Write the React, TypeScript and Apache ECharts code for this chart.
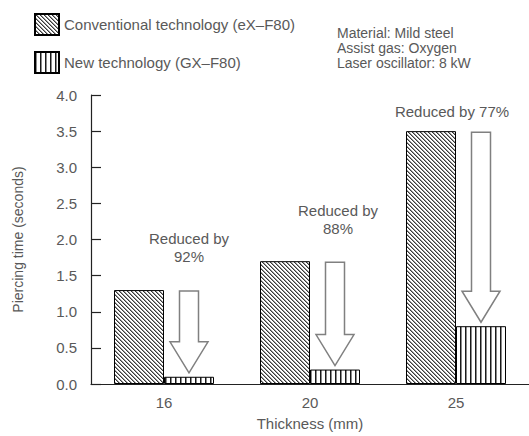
import React, { useEffect, useRef } from "react";
import * as echarts from "echarts";

const categories = ["16", "20", "25"];
const conventionalValues = [1.3, 1.7, 3.5];
const newValues = [0.1, 0.2, 0.8];
const reductionLabels = ["Reduced by\n92%", "Reduced by\n88%", "Reduced by 77%"];
const yTicks = [0, 0.5, 1, 1.5, 2, 2.5, 3, 3.5, 4];
const seriesNames = ["Conventional technology (eX\u2013F80)", "New technology (GX\u2013F80)"];
const conditions = ["Material: Mild steel", "Assist gas: Oxygen", "Laser oscillator: 8 kW"];

const FONT = '"Liberation Sans", Arial, sans-serif';
const GRAY = "#595959";

function makeDiagonal(): HTMLCanvasElement {
  const c = document.createElement("canvas");
  c.width = 4;
  c.height = 4;
  const ctx = c.getContext("2d")!;
  ctx.fillStyle = "#ffffff";
  ctx.fillRect(0, 0, 4, 4);
  for (let y = 0; y < 4; y++) {
    for (let x = 0; x < 4; x++) {
      const d = (((x - y) % 4) + 4) % 4;
      if (d === 0) {
        ctx.fillStyle = "#3a3a3a";
        ctx.fillRect(x, y, 1, 1);
      } else if (d === 1) {
        ctx.fillStyle = "#9a9a9a";
        ctx.fillRect(x, y, 1, 1);
      }
    }
  }
  return c;
}

function makeVertical(): HTMLCanvasElement {
  const c = document.createElement("canvas");
  c.width = 5;
  c.height = 4;
  const ctx = c.getContext("2d")!;
  ctx.fillStyle = "#ffffff";
  ctx.fillRect(0, 0, 5, 4);
  ctx.fillStyle = "#1a1a1a";
  ctx.fillRect(0, 0, 1, 4);
  ctx.fillStyle = "#8a8a8a";
  ctx.fillRect(1, 0, 1, 4);
  return c;
}

// arrow label offsets (style), relative to arrow centre / top
const labelDx = [0, 3, -29];
const labelGap = [26, 25, 12];

export default function App() {
  const ref = useRef<HTMLDivElement>(null);
  useEffect(() => {
    if (!ref.current) return;
    const chart = echarts.init(ref.current, undefined, { renderer: "svg" });
    const diag = makeDiagonal();
    const vert = makeVertical();
    const option: any = {
      animation: false,
      textStyle: { fontFamily: FONT },
      grid: { left: 91, right: -5, top: 95, bottom: 49 },
      legend: {
        orient: "vertical",
        left: 29,
        top: 8,
        itemWidth: 24,
        itemHeight: 21,
        itemGap: 15,
        icon: "rect",
        data: seriesNames,
        textStyle: { color: GRAY, fontSize: 15, fontFamily: FONT, padding: [5, 0, 0, 0] },
      },
      graphic: [
        {
          type: "text",
          left: 337,
          top: 25,
          style: {
            text: conditions.join("\n"),
            font: `14px ${FONT}`,
            fill: GRAY,
            lineHeight: 15,
          },
        },
      ],
      xAxis: {
        type: "category",
        data: categories,
        name: "Thickness (mm)",
        nameLocation: "middle",
        nameGap: 32,
        nameTextStyle: { color: GRAY, fontSize: 15, fontFamily: FONT },
        axisTick: { show: false },
        axisLine: { lineStyle: { color: "#222", width: 1.2 } },
        axisLabel: { color: GRAY, fontSize: 15, fontFamily: FONT, margin: 11 },
      },
      yAxis: {
        type: "value",
        min: 0,
        max: 4,
        interval: 0.5,
        name: "Piercing time (seconds)",
        nameLocation: "middle",
        nameRotate: 90,
        nameGap: 66,
        nameTextStyle: { color: GRAY, fontSize: 14, fontFamily: FONT },
        splitLine: { show: false },
        axisLine: { show: true, lineStyle: { color: "#222", width: 1.2 } },
        axisTick: { show: true, inside: true, length: 10, lineStyle: { color: "#222", width: 1.2 } },
        axisLabel: {
          color: GRAY,
          fontSize: 15,
          fontFamily: FONT,
          margin: 14,
          formatter: (v: number) => (yTicks.includes(v) ? v.toFixed(1) : ""),
        },
      },
      series: [
        {
          name: seriesNames[0],
          type: "bar",
          barWidth: 50,
          barGap: "0%",
          data: conventionalValues,
          itemStyle: {
            color: { image: diag, repeat: "repeat" },
            borderColor: "#000",
            borderWidth: 1,
          },
        },
        {
          name: seriesNames[1],
          type: "bar",
          barWidth: 50,
          barGap: "0%",
          data: newValues,
          itemStyle: {
            color: { image: vert, repeat: "repeat" },
            borderColor: "#000",
            borderWidth: 1,
          },
        },
        {
          type: "custom",
          z: 5,
          data: categories.map((_, i) => [i, conventionalValues[i], newValues[i]]),
          renderItem: (params: any, api: any) => {
            const i = params.dataIndex;
            const top = api.coord([api.value(0), api.value(1)]);
            const bot = api.coord([api.value(0), api.value(2)]);
            const cx = top[0] + 25;
            const yTop = top[1] + 1;
            const yTip = bot[1] - 4;
            const headH = 31;
            const sh = 9.5;
            const hh = 19;
            const yHead = yTip - headH;
            return {
              type: "group",
              children: [
                {
                  type: "polygon",
                  shape: {
                    points: [
                      [cx - sh, yTop],
                      [cx + sh, yTop],
                      [cx + sh, yHead],
                      [cx + hh, yHead],
                      [cx, yTip],
                      [cx - hh, yHead],
                      [cx - sh, yHead],
                    ],
                  },
                  style: { fill: "#ffffff", stroke: "#808080", lineWidth: 1.5 },
                },
                {
                  type: "text",
                  x: cx + labelDx[i],
                  y: yTop - labelGap[i],
                  style: {
                    text: reductionLabels[i],
                    font: `15px ${FONT}`,
                    fill: GRAY,
                    align: "center",
                    verticalAlign: "bottom",
                    lineHeight: 18,
                  },
                },
              ],
            };
          },
        },
      ],
    };
    chart.setOption(option);
    return () => chart.dispose();
  }, []);
  return <div ref={ref} style={{ width: 529, height: 436, position: "absolute", left: 0, top: 0 }} />;
}
